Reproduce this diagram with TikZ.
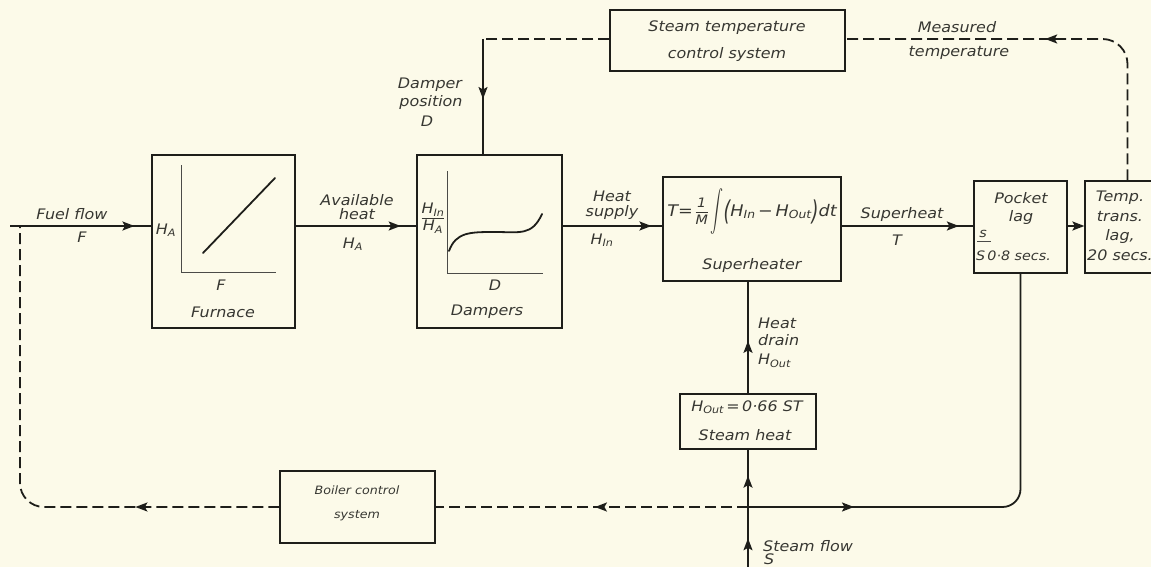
\documentclass[tikz,border=0pt]{standalone}
\usepackage{fontspec}
\setmainfont{DejaVu Sans}[FakeStretch=1.1]
\usetikzlibrary{arrows.meta,decorations.markings}
\definecolor{paper}{RGB}{252,250,233}
\definecolor{ink}{RGB}{30,30,26}
\definecolor{txt}{RGB}{55,55,50}
\newcommand{\hfnt}{\fontsize{14.5}{15}\selectfont\itshape}
\newcommand{\bfnt}{\fontsize{14.5}{19.5}\selectfont\itshape}
\newcommand{\sfnt}{\fontsize{13}{13}\selectfont\itshape}
\newcommand{\bigint}{$\vcenter{\hbox{\resizebox*{13pt}{46pt}{$\displaystyle\int$}}}$}
\newcommand{\tallp}[1]{$\vcenter{\hbox{\scalebox{1}[1.7]{#1}}}$}
\newcommand{\myfrac}[2]{$\vcenter{\hbox{\setlength{\tabcolsep}{0pt}\renewcommand{\arraystretch}{1.05}\begin{tabular}{c}#1\\\hline\rule{0pt}{12pt}#2\end{tabular}}}$}
\tikzset{
  lbl/.style={font=\hfnt, text=txt, inner sep=0pt, align=center},
  lblw/.style={font=\hfnt, text=txt, inner sep=0pt, anchor=west},
  blk/.style={draw=ink, line width=1.2pt, rectangle, inner sep=0pt},
  sig/.style={draw=ink, line width=1.8pt, line join=round},
  ctl/.style={draw=ink, line width=1.8pt, dash pattern=on 11pt off 5pt},
  axisline/.style={draw=ink!80, line width=1pt},
  arrat/.style={postaction={decorate, decoration={markings,
      mark=at position #1 with {\arrow{Stealth[length=12pt,width=9pt,inset=2.5pt]}}}}},
  arrtwo/.style 2 args={postaction={decorate, decoration={markings,
      mark=at position #1 with {\arrow{Stealth[length=12pt,width=9pt,inset=2.5pt]}},
      mark=at position #2 with {\arrow{Stealth[length=12pt,width=9pt,inset=2.5pt]}}}}},
}
\begin{document}
\begin{tikzpicture}[x=1pt,y=-1pt]
\fill[paper] (0,0) rectangle (1151,567);
\useasboundingbox (0,0) rectangle (1151,567);
\clip (0,0) rectangle (1151,567);

% blocks
\node[blk, minimum width=143pt, minimum height=173pt] (furnace) at (223.5,241.5) {};
\node[blk, minimum width=145pt, minimum height=173pt] (dampers) at (489.5,241.5) {};
\node[blk, minimum width=178pt, minimum height=104pt] (superheater) at (752,229) {};
\node[blk, minimum width=136pt, minimum height=55pt] (steamheat) at (748,421.5) {};
\node[blk, minimum width=235pt, minimum height=61pt] (stc) at (727.5,40.5) {};
\node[blk, minimum width=93pt, minimum height=92pt] (pocket) at (1020.5,227) {};
\node[blk, minimum width=85pt, minimum height=92pt] (temp) at (1127.5,227) {};
\node[blk, minimum width=155pt, minimum height=72pt] (boiler) at (357.5,507) {};

% furnace graph
\coordinate (fo) at (181,272);
\draw[axisline] (181,165) -- (fo) -- (276,272);
\draw[ink, line width=1.8pt, line cap=round] (203,253) -- (275,178);
\node[lbl] (fha) at (166,230) {H\textsubscript{A}};
\node[lbl] (ff) at (221,285) {F};
\node[lbl] (fname) at (223,312) {Furnace};

% damper graph
\coordinate (dorg) at (447,273);
\draw[axisline] (447,171) -- (dorg) -- (543,273);
\draw[ink, line width=1.8pt, line cap=round] (449,251) .. controls (456,232) and (470,232) .. (495,232)
   .. controls (520,232) and (532,236) .. (542,214);
\node[lbl] (dfrac) at (433,219) {\myfrac{H\textsubscript{In}}{H\textsubscript{A}}};
\node[lbl] (dd) at (495,285) {D};
\node[lbl] (dname) at (487,312) {Dampers};

% superheater text
\node[lbl, font=\fontsize{16}{16}\selectfont\itshape] (formula) at (752,212) {T=\,{\sfnt\myfrac{1}{M}}\,\bigint\tallp{(}H\textsubscript{In}\,−\,H\textsubscript{Out}\tallp{)}dt};
\node[lbl] (shname) at (752,265) {Superheater};

% steam heat text
\node[lbl] (shf) at (747,407) {H\textsubscript{Out}\,=\,0·66 ST};
\node[lbl] (shn) at (745,435) {Steam heat};

% steam temp control text
\node[lbl] (stc1) at (727,28) {Steam temperature};
\node[lbl] (stc2) at (727,55) {control system};

% pocket lag text
\node[lbl] (pl1) at (1021,198) {Pocket};
\node[lbl] (pl2) at (1021,217) {lag};
\node[lbl, font=\fontsize{13}{13}\selectfont\itshape] (pls) at (983,234) {s};
\draw[ink!80, line width=1pt] (977,241) -- (991,241);
\node[lbl, anchor=base west, font=\fontsize{13}{14}\selectfont\itshape] (plt) at (976,260) {S\,0·8 secs.};

% temp trans lag text
\node[lbl, font=\bfnt] (tt) at (1120,226) {Temp.\\trans.\\lag,\\20 secs.};

% boiler text
\node[lbl, font=\fontsize{11.5}{11.5}\selectfont\itshape] (b1) at (357,490) {Boiler control};
\node[lbl, font=\fontsize{11.5}{11.5}\selectfont\itshape] (b2) at (357,516) {system};

% main signal chain
\coordinate (fstart) at (10,226);
\coordinate (fj) at (20,226);
\draw[sig, arrat=0.88] (fstart) -- (fstart -| furnace.west);
\draw[sig, arrat=0.87] (fstart -| furnace.east) -- (fstart -| dampers.west);
\draw[sig, arrat=0.89] (fstart -| dampers.east) -- (fstart -| superheater.west);
\draw[sig, arrat=0.89] (fstart -| superheater.east) -- (fstart -| pocket.west);
\draw[sig, -{Stealth[length=12pt,width=9pt,inset=2.5pt]}] (fstart -| pocket.east) -- (fstart -| temp.west);

% damper position loop
\coordinate (dcorner) at (483,39);
\draw[ctl] (stc.west |- dcorner) -- (dcorner);
\draw[sig, arrat=0.52] (dcorner) -- (dcorner |- dampers.north);

% measured temperature
\draw[ctl, rounded corners=25pt, arrat=213pt] (temp.north) -- (temp.north |- dcorner) -- (stc.east |- dcorner);

% heat drain and steam flow
\coordinate (sbot) at (748,580);
\coordinate (jn) at (748,507);
\draw[sig, arrat=0.47] (steamheat.north) -- (steamheat.north |- superheater.south);
\draw[sig, arrtwo={0.32}{0.80}] (sbot) -- (steamheat.south);

% steam flow branches
\draw[ctl, arrat=0.49] (jn) -- (boiler.east);
\draw[sig, rounded corners=18pt, arrat=106pt] (jn) -- (jn -| pocket.south) -- (pocket.south);
\draw[ctl, rounded corners=24pt, arrat=144pt] (boiler.west) -- (boiler.west -| fj) -- (fj);

% line labels
\node[lbl] (lff1) at (72,214) {Fuel flow};
\node[lbl] (lff2) at (82,237) {F};
\node[lbl] (lah1) at (357,200) {Available};
\node[lbl] (lah2) at (357,214) {heat};
\node[lbl] (lah3) at (353,244) {H\textsubscript{A}};
\node[lbl] (lhs1) at (612,196) {Heat};
\node[lbl] (lhs2) at (612,212) {supply};
\node[lbl] (lhs3) at (602,240) {H\textsubscript{In}};
\node[lbl] (lsh1) at (902,214) {Superheat};
\node[lbl] (lsh2) at (897,240) {T};
\node[lbl] (ldp1) at (430,85) {Damper};
\node[lbl] (ldp2) at (431,103) {position};
\node[lbl] (ldp3) at (427,121) {D};
\node[lbl] (lmt1) at (957,27) {Measured};
\node[lbl] (lmt2) at (959,53) {temperature};
\node[lblw] (lhd1) at (758,323) {Heat};
\node[lblw] (lhd2) at (758,340) {drain};
\node[lblw] (lhd3) at (758,361) {H\textsubscript{Out}};
\node[lblw] (lsf1) at (763,546) {Steam flow};
\node[lblw] (lsf2) at (764,559) {S};
\end{tikzpicture}
\end{document}
